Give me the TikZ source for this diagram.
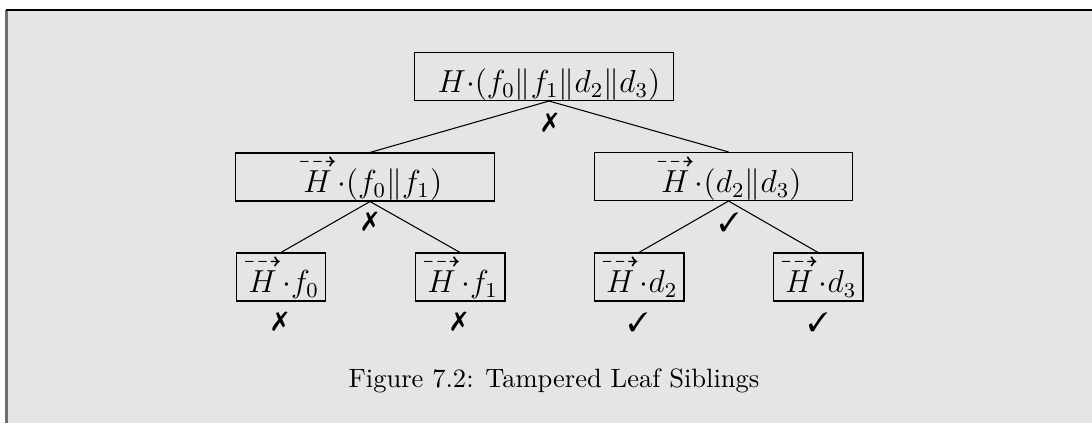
\documentclass[tikz,border=0pt]{standalone}
\usepackage{amsmath,amssymb}
\usepackage{graphicx}
\usepackage{pifont}
\usepackage{xcolor}
\usepackage{tikz}
\usetikzlibrary{positioning}

\definecolor{panelgray}{RGB}{229,229,229}
\definecolor{framegray}{RGB}{110,110,110}
\newcommand{\dhash}{\mathord{\overset{\smash{\raisebox{-1.5pt}{\resizebox{14.8pt}{!}{$\dashrightarrow$}}}}{H}}}

\begin{document}
\begin{tikzpicture}[
		x=0.377pt, y=-0.377pt,
		widebox/.style={
			draw,
			inner sep=0pt,
			minimum width=97.3pt,
			text height=15pt,
			text depth=3.1pt,
			font=\large
		},
		leafbox/.style={
			draw,
			inner sep=0pt,
			minimum width=33.9pt,
			text height=15pt,
			text depth=3.1pt,
			font=\large
		},
		verdict/.style={inner sep=0pt, font=\normalsize},
		edge/.style={line width=0.4pt}
		]
		
		% Frame
		\useasboundingbox (0,0) rectangle (1092,423);
		\fill[panelgray] (7,10) rectangle (1092,423);
		\draw[framegray, line width=0.8pt] (6.5,10) -- (6.5,423);
		\draw[line width=0.6pt] (6,10) -- (1092,10);
		
		% Root
		\node[widebox] (root) at (544,76.5) {\hspace*{3.8pt}$H{\cdot}(f_0\|f_1\|d_2\|d_3)$};
		
		% Inner nodes
		\node[widebox] (left) at (365,177) {\hspace*{3.8pt}$\dhash{\cdot}(f_0\|f_1)$};
		\node[widebox] (right) at (723.5,176.5) {\hspace*{3.8pt}$\dhash{\cdot}(d_2\|d_3)$};
		
		% Leaves
		\node[leafbox] (leafa) at (281,277) {$\dhash{\cdot}f_0$};
		\node[leafbox] (leafb) at (460,277) {$\dhash{\cdot}f_1$};
		\node[leafbox] (leafc) at (639,277) {$\dhash{\cdot}d_2$};
		\node[leafbox] (leafd) at (818,277) {$\dhash{\cdot}d_3$};
		
		% Verdicts
		\node[verdict] (vroot) at (550,123) {\ding{55}};
		\node[verdict] (vleft) at (370,222) {\ding{55}};
		\node[verdict] (vright) at (729,222) {\ding{51}};
		\node[verdict] (va) at (280,322) {\ding{55}};
		\node[verdict] (vb) at (459,322) {\ding{55}};
		\node[verdict] (vc) at (638,322) {\ding{51}};
		\node[verdict] (vd) at (818,322) {\ding{51}};
		
		% Caption
		\node[anchor=base] (caption) at (554,388) {Figure 7.2: Tampered Leaf Siblings};
		
		% Edges
		\draw[edge] ([xshift=1.9pt]root.south) -- ([xshift=1.9pt]left.north);
		\draw[edge] ([xshift=1.9pt]root.south) -- ([xshift=1.9pt]right.north);
		\draw[edge] ([xshift=1.9pt]left.south) -- (leafa.north);
		\draw[edge] ([xshift=1.9pt]left.south) -- (leafb.north);
		\draw[edge] ([xshift=1.9pt]right.south) -- (leafc.north);
		\draw[edge] ([xshift=1.9pt]right.south) -- (leafd.north);
		
	\end{tikzpicture}
\end{document}
